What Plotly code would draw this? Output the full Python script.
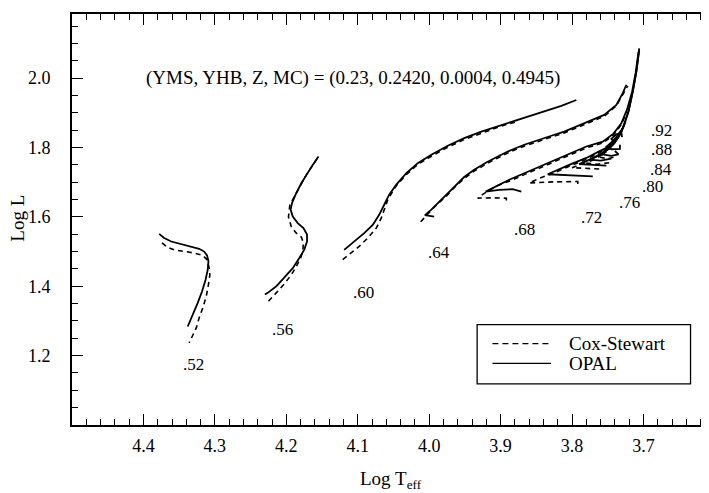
import plotly.graph_objects as go

# ---------------- data ----------------
# mass labels of the tracks
track_labels = [".52", ".56", ".60", ".64", ".68", ".72", ".76", ".80", ".84", ".88", ".92"]
label_logt = [4.330, 4.206, 4.092, 3.986, 3.867, 3.773, 3.720, 3.688, 3.675, 3.675, 3.675]
label_logl = [1.174, 1.275, 1.381, 1.496, 1.563, 1.597, 1.642, 1.689, 1.738, 1.793, 1.848]

# OPAL (solid) tracks
opal_52_logt = [4.378, 4.371, 4.361, 4.347, 4.333, 4.322, 4.315, 4.311, 4.309, 4.310, 4.313, 4.318, 4.324, 4.330, 4.336, 4.338]
opal_52_logl = [1.551, 1.539, 1.529, 1.522, 1.515, 1.508, 1.500, 1.489, 1.472, 1.448, 1.419, 1.385, 1.352, 1.323, 1.294, 1.284]
opal_56_logt = [4.230, 4.226, 4.214, 4.203, 4.191, 4.182, 4.175, 4.171, 4.171, 4.176, 4.184, 4.191, 4.194, 4.192, 4.186, 4.179, 4.172, 4.163, 4.155]
opal_56_logl = [1.376, 1.381, 1.400, 1.424, 1.452, 1.481, 1.505, 1.529, 1.549, 1.568, 1.582, 1.601, 1.621, 1.640, 1.669, 1.697, 1.721, 1.750, 1.774]
opal_60_logt = [4.119, 4.105, 4.091, 4.079, 4.070, 4.063, 4.056, 4.046, 4.032, 4.016, 3.997, 3.974, 3.951, 3.927, 3.899, 3.871, 3.843, 3.815, 3.794]
opal_60_logl = [1.505, 1.529, 1.553, 1.577, 1.606, 1.635, 1.664, 1.693, 1.726, 1.755, 1.779, 1.805, 1.827, 1.846, 1.865, 1.882, 1.901, 1.920, 1.937]
opal_64_logt = [3.993, 4.006, 3.997, 3.988, 3.976, 3.965, 3.951, 3.937, 3.920, 3.904, 3.885, 3.867, 3.848, 3.829, 3.811, 3.783, 3.755, 3.738, 3.729, 3.724]
opal_64_logl = [1.601, 1.605, 1.621, 1.640, 1.664, 1.688, 1.715, 1.736, 1.757, 1.774, 1.793, 1.808, 1.822, 1.834, 1.846, 1.870, 1.894, 1.923, 1.957, 1.981]
opal_68_logt = [3.871, 3.883, 3.902, 3.921, 3.888, 3.855, 3.818, 3.780, 3.757, 3.742, 3.731, 3.723, 3.716, 3.711, 3.707]
opal_68_logl = [1.673, 1.680, 1.678, 1.673, 1.707, 1.736, 1.770, 1.803, 1.817, 1.840, 1.870, 1.910, 1.960, 2.015, 2.075]
opal_72_logt = [3.771, 3.800, 3.834, 3.804, 3.780, 3.762, 3.748, 3.738, 3.729, 3.721, 3.715, 3.710, 3.706]
opal_72_logl = [1.717, 1.720, 1.723, 1.750, 1.770, 1.789, 1.803, 1.827, 1.856, 1.904, 1.961, 2.019, 2.086]
opal_76_logt = [3.752, 3.770, 3.790, 3.772, 3.757, 3.745, 3.736, 3.728, 3.721, 3.715, 3.710, 3.706]
opal_76_logl = [1.748, 1.750, 1.752, 1.768, 1.785, 1.805, 1.830, 1.860, 1.904, 1.961, 2.019, 2.080]
opal_80_logt = [3.745, 3.760, 3.775, 3.760, 3.748, 3.740, 3.732, 3.725]
opal_80_logl = [1.768, 1.762, 1.765, 1.780, 1.797, 1.815, 1.840, 1.875]
opal_84_logt = [3.740, 3.735, 3.745, 3.758, 3.750, 3.742, 3.735, 3.728]
opal_84_logl = [1.790, 1.780, 1.776, 1.780, 1.795, 1.810, 1.830, 1.860]
opal_88_logt = [3.733, 3.733, 3.745, 3.752, 3.745, 3.738, 3.731]
opal_88_logl = [1.808, 1.796, 1.795, 1.802, 1.815, 1.830, 1.850]
opal_92_logt = [3.730, 3.731, 3.738, 3.745, 3.742, 3.736, 3.730]
opal_92_logl = [1.830, 1.843, 1.838, 1.825, 1.818, 1.830, 1.850]

# Cox-Stewart (dashed) tracks
cs_52_logt = [4.374, 4.366, 4.357, 4.343, 4.329, 4.317, 4.311, 4.308, 4.307, 4.309, 4.312, 4.317, 4.322, 4.326, 4.331, 4.336]
cs_52_logl = [1.525, 1.512, 1.505, 1.500, 1.496, 1.489, 1.477, 1.453, 1.433, 1.405, 1.371, 1.337, 1.309, 1.280, 1.256, 1.237]
cs_56_logt = [4.225, 4.218, 4.210, 4.202, 4.193, 4.186, 4.180, 4.177, 4.176, 4.179, 4.186, 4.193, 4.197, 4.195, 4.186, 4.172, 4.157]
cs_56_logl = [1.357, 1.371, 1.390, 1.409, 1.433, 1.457, 1.481, 1.500, 1.525, 1.542, 1.553, 1.572, 1.600, 1.635, 1.669, 1.721, 1.768]
cs_60_logt = [4.121, 4.109, 4.098, 4.086, 4.074, 4.067, 4.063, 4.058, 4.050, 4.044, 4.032, 4.016, 3.997, 3.974, 3.951, 3.927, 3.899, 3.880]
cs_60_logl = [1.477, 1.496, 1.515, 1.539, 1.568, 1.597, 1.621, 1.649, 1.678, 1.695, 1.722, 1.751, 1.775, 1.801, 1.823, 1.842, 1.862, 1.873]
cs_64_logt = [4.012, 4.010, 3.992, 3.976, 3.965, 3.951, 3.937, 3.920, 3.904, 3.885, 3.867, 3.848, 3.829, 3.811, 3.783, 3.755, 3.738, 3.729, 3.722]
cs_64_logl = [1.586, 1.590, 1.630, 1.660, 1.684, 1.711, 1.732, 1.753, 1.770, 1.789, 1.804, 1.818, 1.830, 1.842, 1.866, 1.890, 1.920, 1.955, 1.978]
cs_68_logt = [3.892, 3.892, 3.912, 3.932, 3.925, 3.905, 3.888, 3.855, 3.818, 3.780, 3.757, 3.742, 3.731, 3.723]
cs_68_logl = [1.647, 1.654, 1.655, 1.654, 1.665, 1.690, 1.703, 1.732, 1.766, 1.799, 1.813, 1.836, 1.866, 1.905]
cs_72_logt = [3.792, 3.792, 3.825, 3.860, 3.845, 3.825, 3.804, 3.780, 3.762, 3.748, 3.738]
cs_72_logl = [1.695, 1.702, 1.701, 1.698, 1.712, 1.727, 1.746, 1.766, 1.785, 1.800, 1.822]
cs_76_logt = [3.762, 3.785, 3.800, 3.780, 3.762, 3.750]
cs_76_logl = [1.738, 1.740, 1.742, 1.758, 1.778, 1.800]
cs_80_logt = [3.748, 3.765, 3.780, 3.765, 3.752]
cs_80_logl = [1.756, 1.752, 1.755, 1.770, 1.788]
cs_84_logt = [3.742, 3.750, 3.762, 3.754, 3.745]
cs_84_logl = [1.772, 1.768, 1.772, 1.786, 1.800]

opal_tracks = [
    (opal_52_logt, opal_52_logl), (opal_56_logt, opal_56_logl), (opal_60_logt, opal_60_logl),
    (opal_64_logt, opal_64_logl), (opal_68_logt, opal_68_logl), (opal_72_logt, opal_72_logl),
    (opal_76_logt, opal_76_logl), (opal_80_logt, opal_80_logl), (opal_84_logt, opal_84_logl),
    (opal_88_logt, opal_88_logl), (opal_92_logt, opal_92_logl),
]
cs_tracks = [
    (cs_52_logt, cs_52_logl), (cs_56_logt, cs_56_logl), (cs_60_logt, cs_60_logl),
    (cs_64_logt, cs_64_logl), (cs_68_logt, cs_68_logl), (cs_72_logt, cs_72_logl),
    (cs_76_logt, cs_76_logl), (cs_80_logt, cs_80_logl), (cs_84_logt, cs_84_logl),
]

x_tick_vals = [4.4, 4.3, 4.2, 4.1, 4.0, 3.9, 3.8, 3.7]
x_tick_text = ["4.4", "4.3", "4.2", "4.1", "4.0", "3.9", "3.8", "3.7"]
y_tick_vals = [1.2, 1.4, 1.6, 1.8, 2.0]
y_tick_text = ["1.2", "1.4", "1.6", "1.8", "2.0"]
legend_names = ["Cox-Stewart", "OPAL"]
x_title = "Log T<sub>eff</sub>"
y_title = "Log L"
param_text = "(YMS, YHB, Z, MC) = (0.23, 0.2420, 0.0004, 0.4945)"

# ---------------- figure ----------------
FONT = "Liberation Serif, Times New Roman, serif"
fig = go.Figure()

for xs, ys in cs_tracks:
    fig.add_trace(go.Scatter(x=xs, y=ys, mode="lines", name=legend_names[0],
                             line=dict(color="black", width=1.6, dash="5px,4px"),
                             showlegend=False, hoverinfo="skip"))
for xs, ys in opal_tracks:
    fig.add_trace(go.Scatter(x=xs, y=ys, mode="lines", name=legend_names[1],
                             line=dict(color="black", width=1.8),
                             showlegend=False, hoverinfo="skip"))

# overlay axis that only carries the right-hand tick marks (the right spine lies outside the frame)
fig.add_trace(go.Scatter(x=[4.0], y=[1.6], yaxis="y2", mode="markers", marker=dict(opacity=0),
                         showlegend=False, hoverinfo="skip"))

annotations = []
for t, lx, ly in zip(track_labels, label_logt, label_logl):
    annotations.append(dict(x=lx, y=ly, text=t, showarrow=False, xref="x", yref="y",
                            font=dict(family=FONT, size=17, color="black")))
annotations.append(dict(x=4.399, y=2.0, text=param_text, showarrow=False, xref="x", yref="y",
                        xanchor="left", yanchor="middle",
                        font=dict(family=FONT, size=19, color="black")))
# axis titles
annotations.append(dict(x=0.5, y=-0.134, text=x_title, showarrow=False, xref="paper", yref="paper",
                        xanchor="center", yanchor="middle",
                        font=dict(family=FONT, size=19, color="black")))
annotations.append(dict(x=-0.085, y=0.504, text=y_title, showarrow=False, xref="paper", yref="paper",
                        xanchor="center", yanchor="middle", textangle=-90,
                        font=dict(family=FONT, size=19, color="black")))

# legend (drawn as a framed key)
lg_x0, lg_x1, lg_y0, lg_y1 = 0.636, 0.971, 0.100, 0.244
annotations.append(dict(x=0.777, y=0.198, text=legend_names[0], showarrow=False, xref="paper", yref="paper",
                        xanchor="left", yanchor="middle", font=dict(family=FONT, size=19, color="black")))
annotations.append(dict(x=0.777, y=0.150, text=legend_names[1], showarrow=False, xref="paper", yref="paper",
                        xanchor="left", yanchor="middle", font=dict(family=FONT, size=19, color="black")))
shapes = [
    dict(type="rect", xref="paper", yref="paper", x0=lg_x0, x1=lg_x1, y0=lg_y0, y1=lg_y1,
         line=dict(color="black", width=1.3), fillcolor="white"),
    dict(type="line", xref="paper", yref="paper", x0=0.660, x1=0.752, y0=0.198, y1=0.198,
         line=dict(color="black", width=1.4, dash="6px,4px")),
    dict(type="line", xref="paper", yref="paper", x0=0.660, x1=0.752, y0=0.150, y1=0.150,
         line=dict(color="black", width=1.4)),
]

# the page body adds an 8 px margin, so the figure is 8 px smaller than the window
fig.update_layout(
    width=701, height=485,
    margin=dict(l=64, r=0, t=6, b=68),
    paper_bgcolor="white", plot_bgcolor="white",
    font=dict(family=FONT, size=18, color="black"),
    showlegend=False,
    annotations=annotations,
    shapes=shapes,
    xaxis=dict(
        range=[4.5, 3.6083], tickmode="array", tickvals=x_tick_vals, ticktext=x_tick_text,
        ticks="inside", ticklen=11, tickwidth=1.3, tickcolor="black",
        minor=dict(tickmode="linear", tick0=3.6, dtick=0.02, ticks="inside", ticklen=6,
                   tickwidth=1.2, tickcolor="black"),
        showline=True, linecolor="black", linewidth=2, mirror="ticks",
        showgrid=False, zeroline=False, ticklabelstandoff=3, automargin=False,
        tickfont=dict(family=FONT, size=18, color="black"),
    ),
    yaxis=dict(
        range=[1.0, 2.185], tickmode="array", tickvals=y_tick_vals, ticktext=y_tick_text,
        ticks="inside", ticklen=11, tickwidth=1.3, tickcolor="black",
        minor=dict(tickmode="linear", tick0=1.0, dtick=0.05, ticks="inside", ticklen=6,
                   tickwidth=1.2, tickcolor="black"),
        showline=True, linecolor="black", linewidth=2, mirror=False,
        showgrid=False, zeroline=False, ticklabelstandoff=16, automargin=False,
        tickfont=dict(family=FONT, size=18, color="black"),
    ),
    yaxis2=dict(
        range=[1.0, 2.185], overlaying="y", side="right", tickmode="array", tickvals=y_tick_vals,
        ticks="inside", ticklen=5, tickwidth=1.3, tickcolor="black", showticklabels=False,
        showline=False, showgrid=False, zeroline=False, automargin=False,
    ),
)

fig.write_html("out.html")
